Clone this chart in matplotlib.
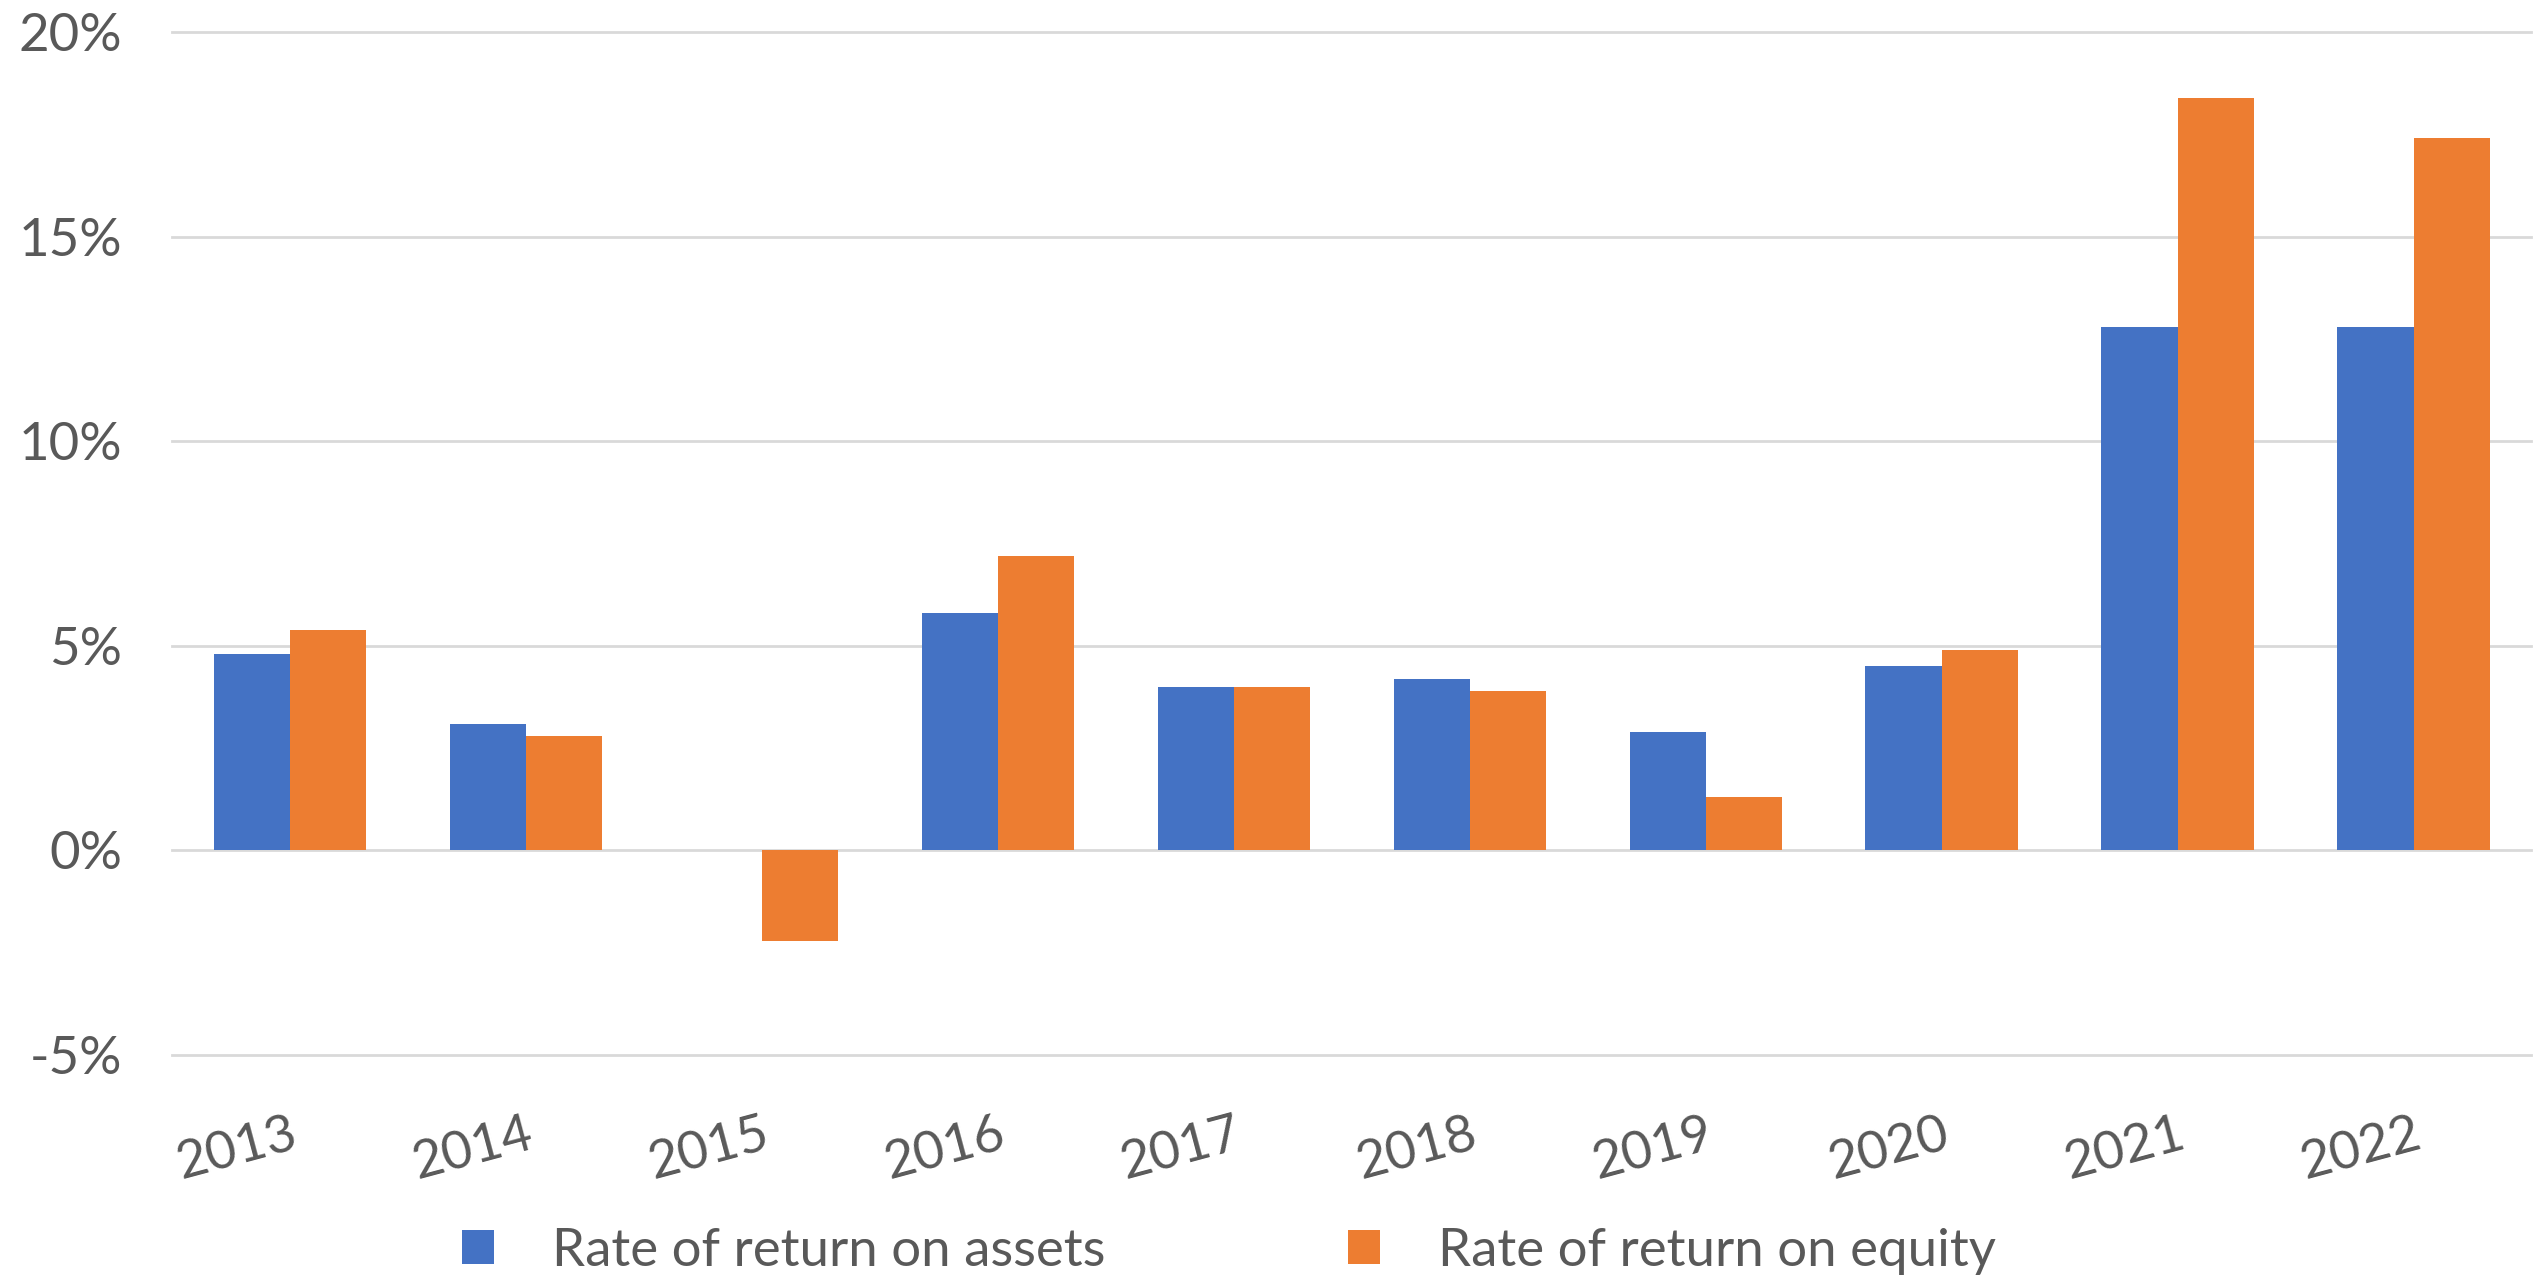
import matplotlib.pyplot as plt
import numpy as np

# 数据
years = ['2013', '2014', '2015', '2016', '2017', '2018', '2019', '2020', '2021', '2022']
roa = [4.8, 3.1, 0.0, 5.8, 4.0, 4.2, 2.9, 4.5, 12.8, 12.8]
roe = [5.4, 2.8, -2.2, 7.2, 4.0, 3.9, 1.3, 4.9, 18.4, 17.4]
yticks = [-5, 0, 5, 10, 15, 20]
labels = ['Rate of return on assets', 'Rate of return on equity']

plt.rcParams['font.family'] = ['Lato', 'DejaVu Sans']
text_color = '#595959'

fig = plt.figure(figsize=(25.34, 12.82), dpi=100)
ax = fig.add_axes([0.068, 0.177, 0.931, 0.798])

x = np.arange(len(years))
w = 0.323
ax.bar(x - w / 2, roa, width=w, color='#4472C4', label=labels[0], zorder=3)
ax.bar(x + w / 2, roe, width=w, color='#ED7D31', label=labels[1], zorder=3)

ax.set_xlim(-0.5, len(years) - 0.5)
ax.set_ylim(-5, 20)
ax.set_yticks(yticks)
ax.set_yticklabels([f'{v}%' for v in yticks])
ax.set_xticks(x)
ax.set_xticklabels(years, rotation=15, ha='right', va='top', rotation_mode='anchor')

ax.grid(axis='y', color='#D9D9D9', linewidth=2, zorder=0)
for line in ax.get_ygridlines():
    line.set_clip_on(False)
for s in ax.spines.values():
    s.set_visible(False)

ax.tick_params(axis='y', length=0, pad=36, labelsize=38, labelcolor=text_color)
ax.tick_params(axis='x', length=0, pad=40, labelsize=38, labelcolor=text_color)

fig.legend(loc='center', bbox_to_anchor=(0.485, 0.024), ncol=2, frameon=False,
           fontsize=38, labelcolor=text_color, handlelength=0.6, handleheight=0.6,
           handletextpad=1.1, columnspacing=4.6)

plt.savefig('out.png', dpi=100)
